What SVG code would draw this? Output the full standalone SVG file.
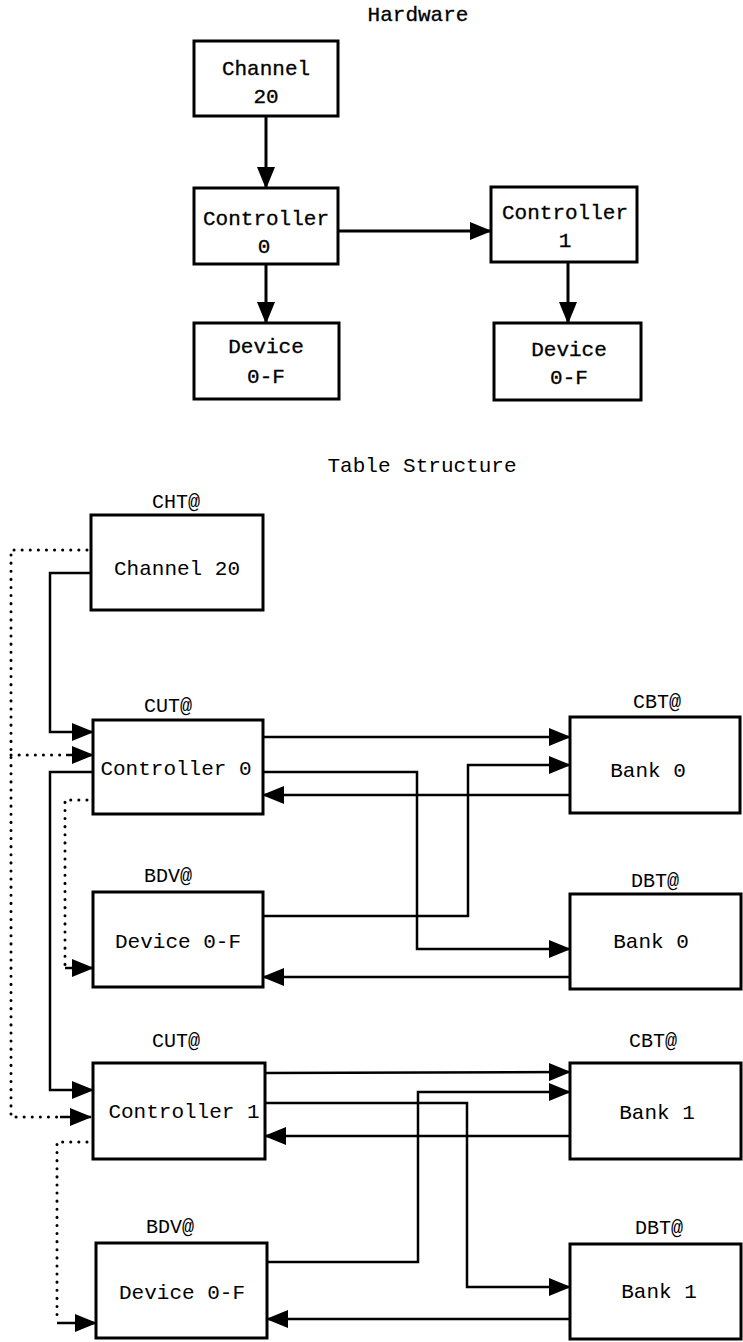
<svg xmlns="http://www.w3.org/2000/svg" width="743" height="1342" viewBox="0 0 743 1342">
  <defs>
    <marker id="arrow" markerUnits="userSpaceOnUse" markerWidth="22" markerHeight="18" viewBox="0 0 22 18" refX="21" refY="9" orient="auto">
      <path d="M0,0 L22,9 L0,18 z" fill="#000"/>
    </marker>
    <style>
      text { font-family: "Liberation Mono", "Courier New", monospace; font-size: 21px; fill: #000; text-anchor: middle; }
      .hw text { stroke: #000; stroke-width: 0.3; }
      .box { fill: #fff; stroke: #000; stroke-width: 3; }
      .link { fill: none; stroke: #000; stroke-width: 2.5; }
      .hwlink { fill: none; stroke: #000; stroke-width: 3; }
      .dot { fill: none; stroke: #000; stroke-width: 3; stroke-dasharray: 0.1 8; stroke-linecap: round; }
      .lbl { font-size: 20px; }
    </style>
  </defs>

  <rect width="743" height="1342" fill="#fff"/>

  <!-- Hardware view -->
  <g class="hw">
    <text x="418" y="21">Hardware</text>

    <g id="connectors-hw">
      <path class="hwlink" d="M266,116 L266,188" marker-end="url(#arrow)"/>
      <path class="hwlink" d="M338,231 L491,231" marker-end="url(#arrow)"/>
      <path class="hwlink" d="M266,264 L266,323" marker-end="url(#arrow)"/>
      <path class="hwlink" d="M568,262 L568,323" marker-end="url(#arrow)"/>
    </g>

    <g id="hw-channel">
      <rect class="box" x="194" y="41" width="144" height="75"/>
      <text x="266" y="75">Channel</text>
      <text x="266" y="103">20</text>
    </g>
    <g id="hw-controller0">
      <rect class="box" x="194" y="188" width="144" height="76"/>
      <text x="266" y="225">Controller</text>
      <text x="264" y="253">0</text>
    </g>
    <g id="hw-controller1">
      <rect class="box" x="491" y="187" width="146" height="75"/>
      <text x="565" y="219">Controller</text>
      <text x="565" y="247">1</text>
    </g>
    <g id="hw-device0">
      <rect class="box" x="194" y="323" width="145" height="76"/>
      <text x="266" y="353">Device</text>
      <text x="266" y="383">0-F</text>
    </g>
    <g id="hw-device1">
      <rect class="box" x="494" y="323" width="147" height="77"/>
      <text x="569" y="356">Device</text>
      <text x="569" y="384">0-F</text>
    </g>
  </g>

  <!-- Table structure view -->
  <text x="422" y="472">Table Structure</text>

  <g id="connectors">
    <!-- channel to controller chain (solid) -->
    <path class="link" d="M91,573 L50,573 L50,732 L93,732" marker-end="url(#arrow)"/>
    <path class="link" d="M93,772 L50,772 L50,1090 L93,1090" marker-end="url(#arrow)"/>

    <!-- channel back-pointers (dotted) -->
    <path class="dot" d="M87,550 L11,550 L11,1117 L59,1117"/>
    <path class="link" d="M60,1117 L91,1117" marker-end="url(#arrow)"/>
    <path class="dot" d="M11,755 L63,755"/>
    <path class="link" d="M66,755 L93,755" marker-end="url(#arrow)"/>

    <!-- controller to device (dotted) -->
    <path class="dot" d="M87,800 L65,800 L65,966"/>
    <path class="link" d="M65,968 L93,968" marker-end="url(#arrow)"/>
    <path class="dot" d="M87,1142 L57,1142 L57,1321"/>
    <path class="link" d="M57,1323 L96,1323" marker-end="url(#arrow)"/>

    <!-- controller 0 / device 0-F to bank 0 tables -->
    <path class="link" d="M263,737 L570,737" marker-end="url(#arrow)"/>
    <path class="link" d="M263,772 L417,772 L417,949 L570,949" marker-end="url(#arrow)"/>
    <path class="link" d="M570,795 L263,795" marker-end="url(#arrow)"/>
    <path class="link" d="M263,916 L468,916 L468,765 L570,765" marker-end="url(#arrow)"/>
    <path class="link" d="M570,977 L263,977" marker-end="url(#arrow)"/>

    <!-- controller 1 / device 0-F to bank 1 tables -->
    <path class="link" d="M265,1073 L570,1072" marker-end="url(#arrow)"/>
    <path class="link" d="M265,1103 L467,1103 L467,1287 L570,1287" marker-end="url(#arrow)"/>
    <path class="link" d="M570,1136 L265,1136" marker-end="url(#arrow)"/>
    <path class="link" d="M267,1262 L418,1262 L418,1092 L570,1092" marker-end="url(#arrow)"/>
    <path class="link" d="M570,1319 L267,1319" marker-end="url(#arrow)"/>
  </g>

  <g id="cht">
    <text class="lbl" x="176" y="508">CHT@</text>
    <rect class="box" x="91" y="515" width="172" height="95"/>
    <text x="177" y="575">Channel 20</text>
  </g>

  <g id="cut0">
    <text class="lbl" x="168" y="712">CUT@</text>
    <rect class="box" x="93" y="720" width="170" height="94"/>
    <text x="176" y="775">Controller 0</text>
  </g>

  <g id="bdv0">
    <text class="lbl" x="168" y="882">BDV@</text>
    <rect class="box" x="93" y="892" width="170" height="95"/>
    <text x="178" y="948">Device 0-F</text>
  </g>

  <g id="cbt0">
    <text class="lbl" x="657" y="708">CBT@</text>
    <rect class="box" x="570" y="717" width="170" height="96"/>
    <text x="648" y="777">Bank 0</text>
  </g>

  <g id="dbt0">
    <text class="lbl" x="655" y="887">DBT@</text>
    <rect class="box" x="570" y="894" width="171" height="95"/>
    <text x="651" y="948">Bank 0</text>
  </g>

  <g id="cut1">
    <text class="lbl" x="176" y="1047">CUT@</text>
    <rect class="box" x="93" y="1063" width="172" height="96"/>
    <text x="184" y="1118">Controller 1</text>
  </g>

  <g id="bdv1">
    <text class="lbl" x="170" y="1233">BDV@</text>
    <rect class="box" x="96" y="1243" width="171" height="95"/>
    <text x="182" y="1299">Device 0-F</text>
  </g>

  <g id="cbt1">
    <text class="lbl" x="653" y="1047">CBT@</text>
    <rect class="box" x="570" y="1063" width="171" height="96"/>
    <text x="657" y="1119">Bank 1</text>
  </g>

  <g id="dbt1">
    <text class="lbl" x="659" y="1234">DBT@</text>
    <rect class="box" x="570" y="1244" width="171" height="95"/>
    <text x="659" y="1298">Bank 1</text>
  </g>
</svg>
